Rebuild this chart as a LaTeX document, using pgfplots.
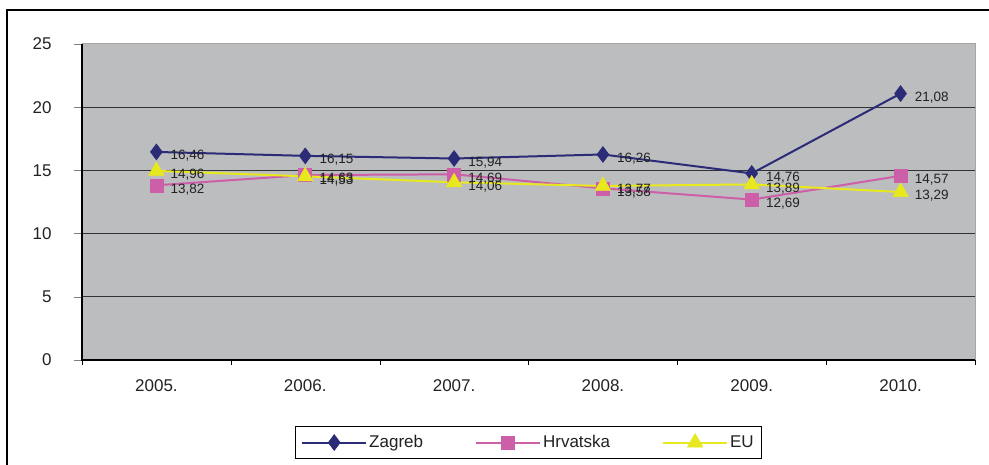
\documentclass[border=0pt]{standalone}
\usepackage{pgfplots}
\pgfplotsset{compat=1.18}
\usepackage{fontspec}
\setmainfont{Liberation Sans}
\definecolor{zgc}{HTML}{2B2B78}
\definecolor{hrc}{HTML}{CC5FA8}
\definecolor{euc}{HTML}{E8E81E}
\definecolor{bgc}{HTML}{BCBDBF}
\definecolor{txt}{HTML}{222222}

\pgfplotstableread{
x    zg     zgl    hr     hrl    eu     eul
0.5  16.46  16,46  13.82  13,82  14.96  14,96
1.5  16.15  16,15  14.63  14,63  14.53  14,53
2.5  15.94  15,94  14.69  14,69  14.06  14,06
3.5  16.26  16,26  13.58  13,58  13.77  13,77
4.5  14.76  14,76  12.69  12,69  13.89  13,89
5.5  21.08  21,08  14.57  14,57  13.29  13,29
}\data

\begin{document}
\begin{tikzpicture}[x=1pt,y=1pt]
\begin{axis}[
    scale only axis,
    width=893pt, height=316pt,
    xmin=0, xmax=6,
    ymin=0, ymax=25,
    ytick={0,5,...,25},
    xtick={0.5,1.5,...,5.5},
    xticklabels={2005.,2006.,2007.,2008.,2009.,2010.},
    minor xtick={0,1,...,6},
    major x tick style={draw=none},
    minor x tick style={black},
    minor tick length=5pt,
    major tick length=8pt,
    tick align=outside,
    xtick pos=bottom, ytick pos=left,
    ymajorgrids,
    major grid style={black!80, line width=1pt},
    axis background/.style={fill=bgc},
    axis line style={draw=none},
    tick label style={font=\fontsize{17}{20}\selectfont, text=txt},
    yticklabel style={xshift=-19pt},
    xticklabel style={yshift=-8pt},
    /pgf/number format/assume math mode=true,
    point meta=explicit symbolic,
    nodes near coords,
    every node near coord/.append style={anchor=west, xshift=14pt, yshift=-4pt,
        font=\fontsize{13.5}{15}\selectfont, text=txt, inner sep=0pt},
    legend columns=3,
    legend style={at={(0.5,-0.209)}, anchor=north, draw=black, line width=1pt,
        fill=white, font=\fontsize{17}{20}\selectfont, text=txt,
        /tikz/every even column/.append style={column sep=50pt},
        inner xsep=6pt, inner ysep=7pt},
    legend image code/.code={\draw[mark repeat=2,mark phase=2] plot coordinates {(0pt,0pt)(32pt,0pt)(64pt,0pt)};},
    clip=false,
]
\coordinate (O) at (rel axis cs:0,0);
% axis frame
\draw[gray!70, line width=1pt] (rel axis cs:0,1) -- (rel axis cs:1,1) -- (rel axis cs:1,0);
\draw[black, line width=1.2pt] (rel axis cs:0,1) -- (rel axis cs:0,0) -- (rel axis cs:1,0);
\addplot[zgc, line width=2pt, mark=diamond*, mark size=8pt, mark options={fill=zgc, draw=zgc, line width=0.5pt}]
    table[x=x, y=zg, meta=zgl] {\data};
\addplot[hrc, line width=2pt, mark=square*, mark size=6.5pt, mark options={fill=hrc, draw=hrc, line width=0.5pt}]
    table[x=x, y=hr, meta=hrl] {\data};
\addplot[euc, line width=2pt, mark=triangle*, mark size=9pt, mark options={fill=euc, draw=euc, line width=0.5pt}]
    table[x=x, y=eu, meta=eul] {\data};
\legend{Zagreb, Hrvatska, EU\hspace{20pt}}
\end{axis}
% picture extent: 989 x 465, axis box from (82,105)
\path ([shift={(-82pt,-105pt)}]O) rectangle ([shift={(907pt,360pt)}]O);
% outer frame (cropped at right and bottom)
\draw[overlay, line width=2.5pt] ([shift={(-75pt,-110pt)}]O) -- ([shift={(-75pt,350pt)}]O) -- ([shift={(915pt,350pt)}]O);
\end{tikzpicture}
\end{document}
